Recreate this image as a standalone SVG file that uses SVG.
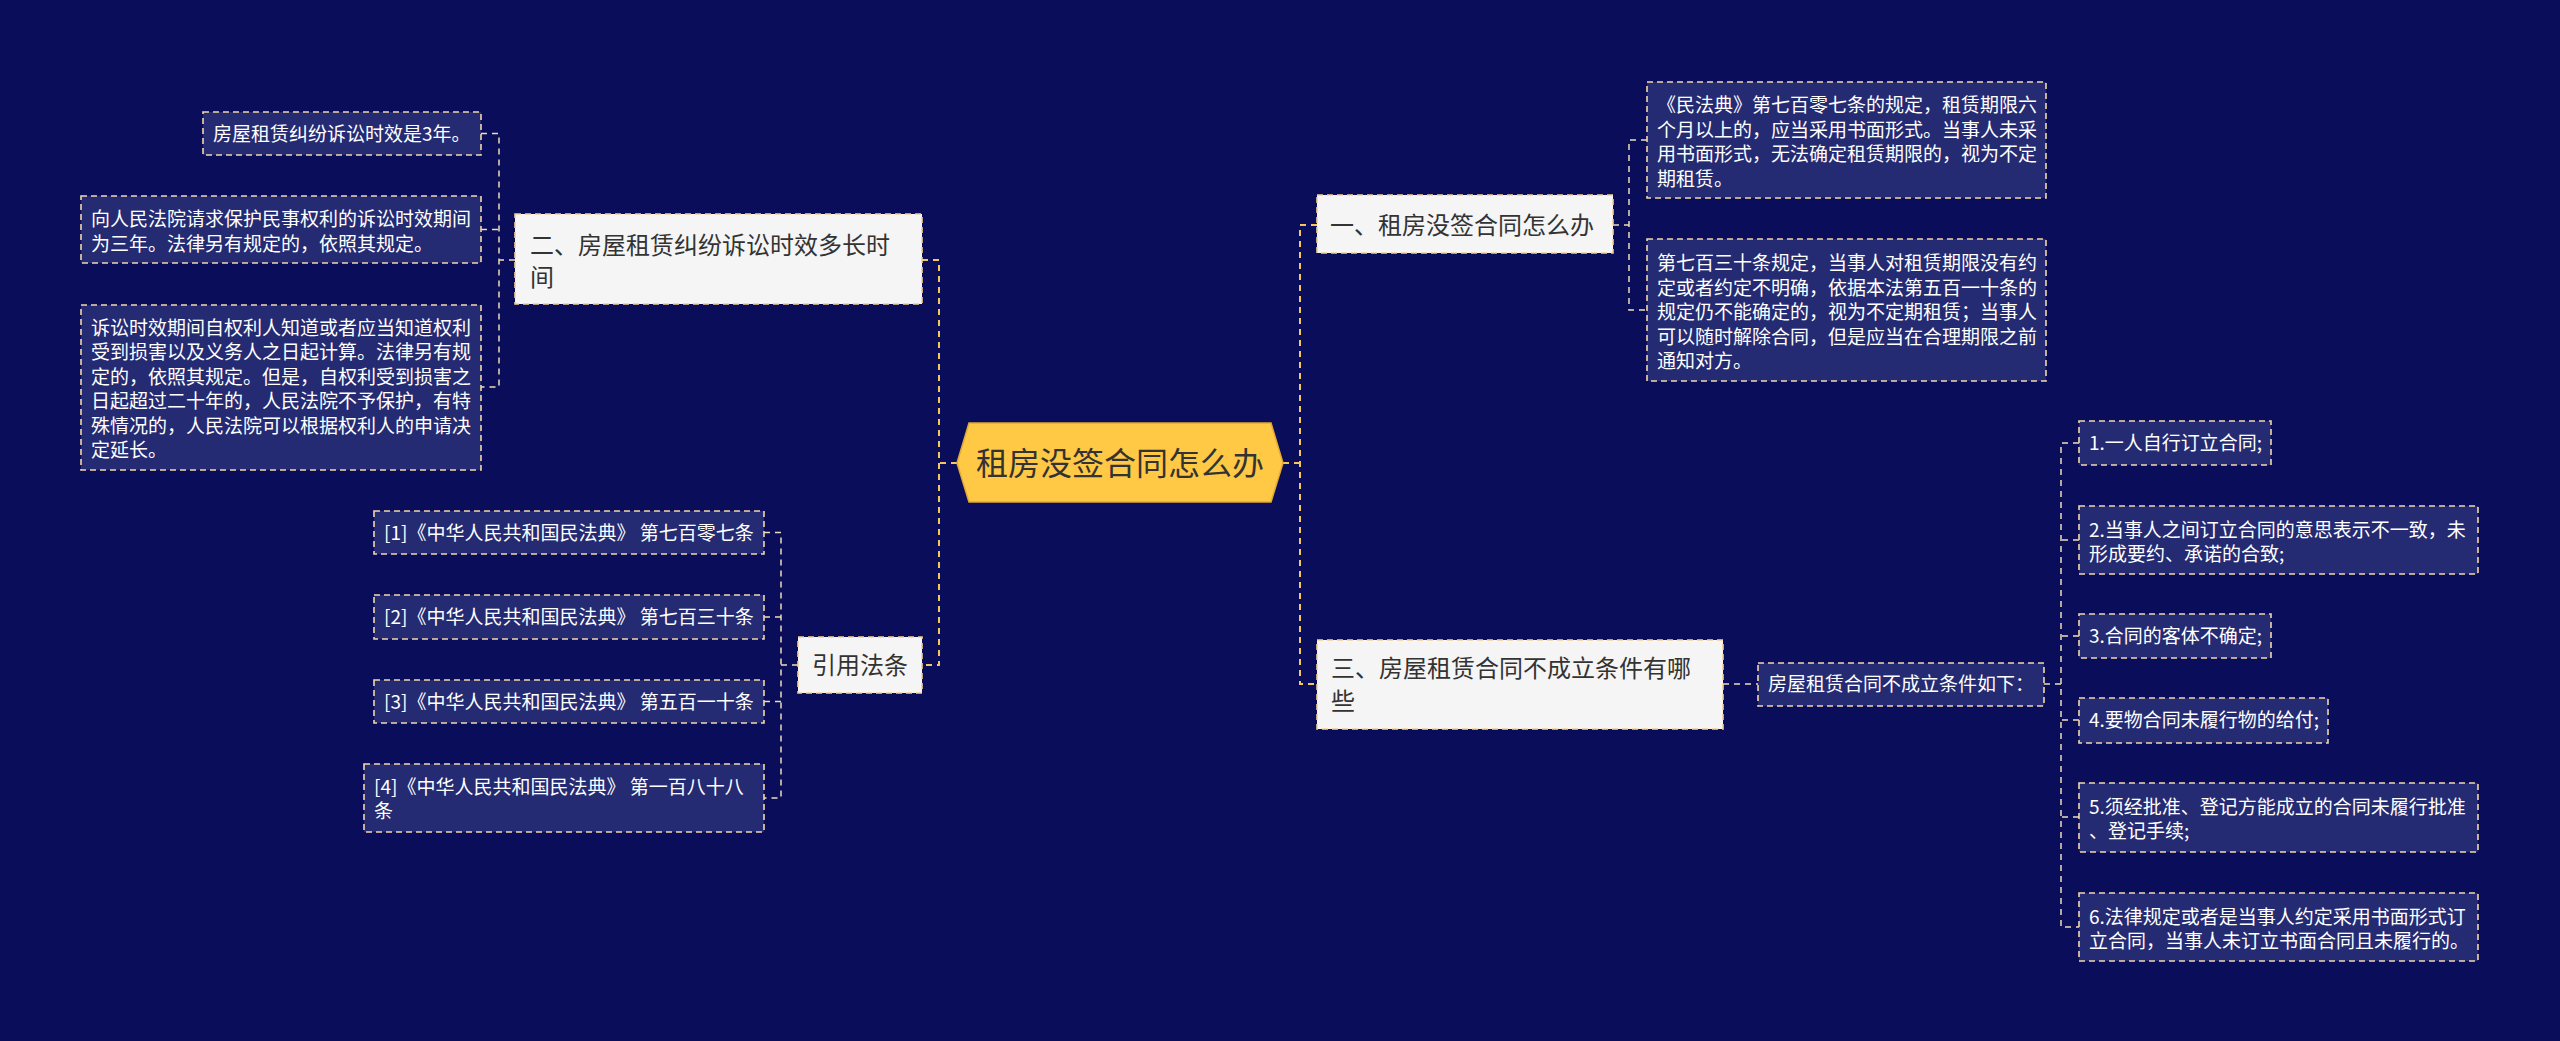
<svg xmlns="http://www.w3.org/2000/svg" width="2560" height="1041" viewBox="0 0 2560 1041">
<style>
text{font-family:"Noto Sans CJK SC","Noto Sans",sans-serif}
.leaf rect{fill:#252B73;stroke:#F2D7AA;stroke-width:1.6;stroke-dasharray:6 4}
.leaf text{fill:#FFFFFF;font-size:19px}
.branch rect{fill:#F5F5F5;stroke:#F2CF94;stroke-width:1.6;stroke-dasharray:6 4}
.branch text{fill:#333333;font-size:24px}
.main{fill:none;stroke:#F2C75E;stroke-width:2;stroke-dasharray:6 5}
.sub{fill:none;stroke:#EEDCB8;stroke-width:1.5;stroke-dasharray:6 5}
</style>
<rect width="2560" height="1041" fill="#0A0E5A"/>
<g id="connectors">
<path class="main" d="M957 463H939M922 260H939V665H922"/>
<path class="main" d="M1283 463H1300M1317 225H1300V684H1317"/>
<path class="sub" d="M515 260H499M481 133.5H499V387H481M481 229.5H499"/>
<path class="sub" d="M798 665H781M764 532.5H781V798H764M764 617H781M764 701.5H781"/>
<path class="sub" d="M1613 225H1629M1647 140H1629V310H1647"/>
<path class="sub" d="M1723 684H1758"/>
<path class="sub" d="M2044 684H2061M2079 443H2061V927H2079M2079 540H2061M2079 636H2061M2079 720H2061M2079 817H2061"/>
</g>
<g id="center">
<polygon points="957,463 969,423 1271,423 1283,463 1271,502 969,502" fill="#FFC845" stroke="#E3A935" stroke-width="1.5"/>
<text x="1120" y="475" text-anchor="middle" font-size="32" fill="#333333">租房没签合同怎么办</text>
</g>
<g id="branch-2" class="branch">
<rect x="515" y="214" width="407" height="90"/>
<text x="530" y="254">二、房屋租赁纠纷诉讼时效多长时</text>
<text x="530" y="286">间</text>
</g>
<g id="branch-cite" class="branch">
<rect x="798" y="637" width="124" height="56"/>
<text x="860" y="674" text-anchor="middle">引用法条</text>
</g>
<g id="branch-1" class="branch">
<rect x="1317" y="195" width="296" height="58"/>
<text x="1330" y="234">一、租房没签合同怎么办</text>
</g>
<g id="branch-3" class="branch">
<rect x="1317" y="640" width="406" height="89"/>
<text x="1331" y="677">三、房屋租赁合同不成立条件有哪</text>
<text x="1331" y="710">些</text>
</g>
<g id="leaf-2a" class="leaf">
<rect x="203" y="112" width="278" height="43"/>
<text x="213" y="141">房屋租赁纠纷诉讼时效是3年。</text>
</g>
<g id="leaf-2b" class="leaf">
<rect x="81" y="196" width="400" height="67"/>
<text x="91" y="226">向人民法院请求保护民事权利的诉讼时效期间</text>
<text x="91" y="251">为三年。法律另有规定的，依照其规定。</text>
</g>
<g id="leaf-2c" class="leaf">
<rect x="81" y="305" width="400" height="165"/>
<text x="91" y="335">诉讼时效期间自权利人知道或者应当知道权利</text>
<text x="91" y="359.4">受到损害以及义务人之日起计算。法律另有规</text>
<text x="91" y="383.8">定的，依照其规定。但是，自权利受到损害之</text>
<text x="91" y="408.2">日起超过二十年的，人民法院不予保护，有特</text>
<text x="91" y="432.6">殊情况的，人民法院可以根据权利人的申请决</text>
<text x="91" y="457">定延长。</text>
</g>
<g id="cite-1" class="leaf">
<rect x="374" y="511" width="390" height="43"/>
<text x="384" y="540">[1]《中华人民共和国民法典》 第七百零七条</text>
</g>
<g id="cite-2" class="leaf">
<rect x="374" y="595" width="390" height="44"/>
<text x="384" y="624">[2]《中华人民共和国民法典》 第七百三十条</text>
</g>
<g id="cite-3" class="leaf">
<rect x="374" y="680" width="390" height="43"/>
<text x="384" y="709">[3]《中华人民共和国民法典》 第五百一十条</text>
</g>
<g id="cite-4" class="leaf">
<rect x="364" y="764" width="400" height="68"/>
<text x="374" y="794">[4]《中华人民共和国民法典》 第一百八十八</text>
<text x="374" y="818">条</text>
</g>
<g id="leaf-1a" class="leaf">
<rect x="1647" y="82" width="399" height="116"/>
<text x="1657" y="112">《民法典》第七百零七条的规定，租赁期限六</text>
<text x="1657" y="136.5">个月以上的，应当采用书面形式。当事人未采</text>
<text x="1657" y="161">用书面形式，无法确定租赁期限的，视为不定</text>
<text x="1657" y="185.5">期租赁。</text>
</g>
<g id="leaf-1b" class="leaf">
<rect x="1647" y="239" width="399" height="142"/>
<text x="1657" y="270">第七百三十条规定，当事人对租赁期限没有约</text>
<text x="1657" y="294.5">定或者约定不明确，依据本法第五百一十条的</text>
<text x="1657" y="319">规定仍不能确定的，视为不定期租赁；当事人</text>
<text x="1657" y="343.5">可以随时解除合同，但是应当在合理期限之前</text>
<text x="1657" y="368">通知对方。</text>
</g>
<g id="leaf-3" class="leaf">
<rect x="1758" y="663" width="286" height="43"/>
<text x="1768" y="691">房屋租赁合同不成立条件如下：</text>
</g>
<g id="item-1" class="leaf">
<rect x="2079" y="421" width="192" height="44"/>
<text x="2089" y="450">1.一人自行订立合同;</text>
</g>
<g id="item-2" class="leaf">
<rect x="2079" y="506" width="399" height="68"/>
<text x="2089" y="537">2.当事人之间订立合同的意思表示不一致，未</text>
<text x="2089" y="561">形成要约、承诺的合致;</text>
</g>
<g id="item-3" class="leaf">
<rect x="2079" y="614" width="192" height="44"/>
<text x="2089" y="643">3.合同的客体不确定;</text>
</g>
<g id="item-4" class="leaf">
<rect x="2079" y="698" width="249" height="45"/>
<text x="2089" y="727">4.要物合同未履行物的给付;</text>
</g>
<g id="item-5" class="leaf">
<rect x="2079" y="783" width="399" height="69"/>
<text x="2089" y="814">5.须经批准、登记方能成立的合同未履行批准</text>
<text x="2089" y="838">、登记手续;</text>
</g>
<g id="item-6" class="leaf">
<rect x="2079" y="893" width="399" height="68"/>
<text x="2089" y="924">6.法律规定或者是当事人约定采用书面形式订</text>
<text x="2089" y="948">立合同，当事人未订立书面合同且未履行的。</text>
</g>
</svg>
